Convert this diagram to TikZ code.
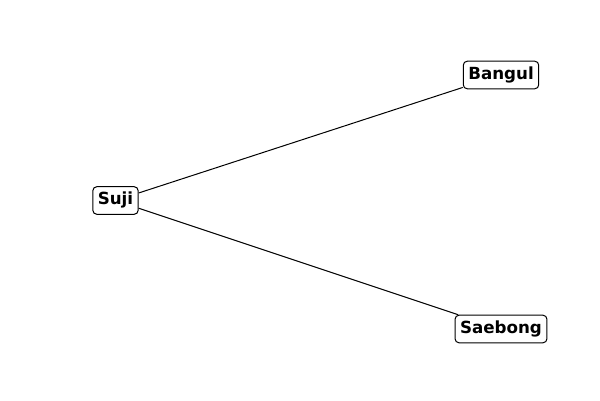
\documentclass[tikz,border=0pt]{standalone}
\usepackage{fontspec}
\setmainfont{DejaVu Sans}
\begin{document}
\begin{tikzpicture}[x=1pt,y=1pt,
  lbl/.style={draw=black, fill=white, rounded corners=4pt, line width=1pt,
    inner xsep=5pt, inner ysep=6pt, text height=12.2pt, text depth=3.4pt,
    font=\fontsize{16.7}{20}\selectfont\bfseries},
  edge/.style={draw=black, line width=1pt}]
\useasboundingbox (0,0) rectangle (600,400);
\node[lbl] (suji) at (115.5,199.5) {Suji};
\node[lbl] (bangul) at (501,325) {Bangul};
\node[lbl] (saebong) at (501,71) {Saebong};
\draw[edge] (suji) -- (bangul);
\draw[edge] (suji) -- (saebong);
\end{tikzpicture}
\end{document}
